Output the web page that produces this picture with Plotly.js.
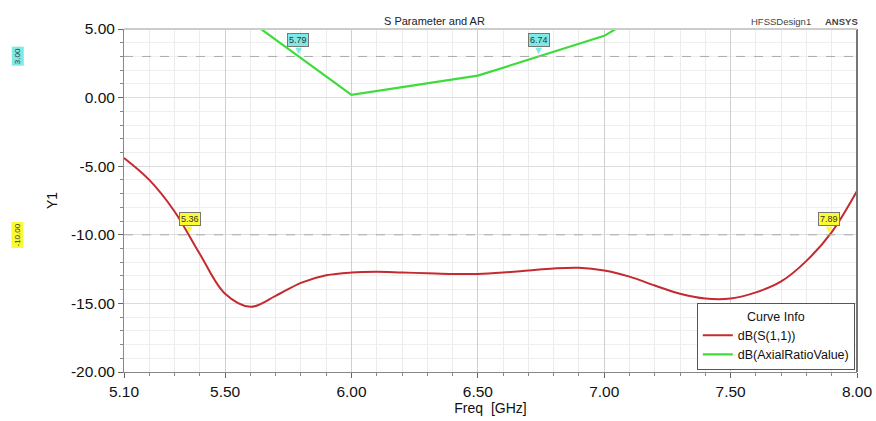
<!DOCTYPE html>
<html><head><meta charset="utf-8">
<script src="https://cdn.plot.ly/plotly-3.0.1.min.js"></script>
<style>html,body{margin:0;padding:0;background:#fff}#chart{width:876px;height:421px}</style>
</head><body><div id="chart"></div>
<script>
// Data
const freqS11 = [5.10,5.20,5.30,5.40,5.50,5.60,5.70,5.80,5.90,6.00,6.10,6.20,6.30,6.40,6.50,6.60,6.70,6.80,6.90,7.00,7.10,7.20,7.30,7.40,7.50,7.60,7.70,7.80,7.90,8.00];
const dbS11   = [-4.4,-6.0,-8.3,-11.4,-14.3,-15.25,-14.45,-13.5,-12.95,-12.75,-12.7,-12.75,-12.8,-12.85,-12.85,-12.75,-12.6,-12.45,-12.4,-12.6,-13.05,-13.7,-14.3,-14.65,-14.65,-14.2,-13.4,-11.9,-9.8,-6.8];
const freqAR = [5.5, 6.0, 6.5, 7.0, 7.5, 8.0];
const dbAR   = [6.9, 0.2, 1.6, 4.5, 10.0, 13.0];
const xTickVals = [5.1, 5.5, 6.0, 6.5, 7.0, 7.5, 8.0];
const xTickText = ["5.10","5.50","6.00","6.50","7.00","7.50","8.00"];
const yTickVals = [5, 0, -5, -10, -15, -20];
const yTickText = ["5.00","0.00","-5.00","-10.00","-15.00","-20.00"];
const seriesNames = ["dB(S(1,1))", "dB(AxialRatioValue)"];
const refLevels = [3.0, -10.0];
const refLabels = ["3.00", "-10.00"];
const markS11X = [5.36, 7.89];
const markS11Y = [-10, -10];
const markARX = [5.79, 6.74];
const markARY = [3, 3];

const red = "#c42a2f", green = "#3ddc3a";
const cyanBg = "#7fe9e6", yellowBg = "#fbfb33";
const font = "Liberation Sans, Arial, sans-serif";

const traces = [
  {x: freqS11, y: dbS11, name: seriesNames[0], mode: "lines", line: {color: red, width: 2, shape: "spline", smoothing: 1}},
  {x: freqAR, y: dbAR, name: seriesNames[1], mode: "lines", line: {color: green, width: 2.2}}
];

const shapes = [];
const annotations = [];
refLevels.forEach((lv, i) => {
  shapes.push({type: "line", xref: "paper", x0: 0, x1: 1, yref: "y", y0: lv, y1: lv,
    line: {color: "#aaaaaa", width: 1, dash: "dash"}});
  annotations.push({xref: "paper", x: -0.145, xanchor: "center", yref: "y", y: lv, text: refLabels[i],
    textangle: -90, showarrow: false, font: {family: font, size: 8, color: "#333"},
    bgcolor: i === 0 ? cyanBg : yellowBg, borderpad: 1});
});
function addMarker(xs, ys, bg) {
  xs.forEach((x, i) => {
    annotations.push({x: x, y: ys[i], xref: "x", yref: "y", text: "▼", showarrow: false,
      font: {size: 11, color: bg}, yshift: 6});
    annotations.push({x: x, y: ys[i], xref: "x", yref: "y", text: x.toFixed(2), showarrow: false,
      font: {family: font, size: 9, color: "#333"}, bgcolor: bg, bordercolor: "#777", borderwidth: 1,
      borderpad: 1, yshift: 16});
  });
}
addMarker(markS11X, markS11Y, yellowBg);
addMarker(markARX, markARY, cyanBg);

annotations.push({xref: "paper", yref: "paper", x: 0.424, y: 1, yshift: 16, text: "S Parameter and AR",
  showarrow: false, font: {family: font, size: 11, color: "#222"}});
annotations.push({xref: "paper", yref: "paper", x: 0.94, y: 1, yshift: 15, text: "HFSSDesign1",
  showarrow: false, font: {family: font, size: 9.5, color: "#444"}});
annotations.push({xref: "paper", yref: "paper", x: 1.004, y: 1, yshift: 15, text: "<b>ANSYS</b>",
  showarrow: false, font: {family: font, size: 9.5, color: "#444"}});

const layout = {
  width: 876, height: 421,
  margin: {l: 124, r: 19, t: 29, b: 49},
  paper_bgcolor: "#fff", plot_bgcolor: "#fff",
  font: {family: font, color: "#111"},
  showlegend: true,
  legend: {x: 0.997, y: 0.005, xanchor: "right", yanchor: "bottom", bgcolor: "#fff",
    bordercolor: "#555", borderwidth: 1, font: {family: font, size: 12.5},
    title: {text: "Curve Info", side: "top center", font: {family: font, size: 12.5}},
    tracegroupgap: 0, itemwidth: 30},
  xaxis: {range: [5.1, 8.0], tickvals: xTickVals, ticktext: xTickText, ticks: "outside", ticklen: 5,
    tickcolor: "#666", tickfont: {size: 15.5, family: font},
    showgrid: true, gridcolor: "#cfcfcf", zeroline: false,
    minor: {dtick: 0.1, tick0: 5.0, showgrid: true, gridcolor: "#ececec", ticks: "outside", ticklen: 3, tickcolor: "#888"},
    showline: true, linecolor: "#888", mirror: false,
    title: {text: "Freq  [GHz]", font: {size: 14, family: font}, standoff: 2}},
  yaxis: {range: [-20, 5], tickvals: yTickVals, ticktext: yTickText, ticks: "outside", ticklen: 5,
    tickcolor: "#666", tickfont: {size: 15.5, family: font},
    showgrid: true, gridcolor: "#dcdcdc", zeroline: false,
    minor: {dtick: 1, showgrid: true, gridcolor: "#efefef", ticks: "outside", ticklen: 3, tickcolor: "#888"},
    showline: true, linecolor: "#888",
    title: {text: "Y1", font: {size: 14, family: font}, standoff: 10}},
  shapes: shapes.concat([
    {type: "line", xref: "paper", yref: "paper", x0: 1, x1: 1, y0: 0, y1: 1, line: {color: "#777", width: 2}},
    {type: "line", xref: "paper", yref: "paper", x0: 0, x1: 1, y0: 1, y1: 1, line: {color: "#cccccc", width: 2}}
  ]),
  annotations: annotations
};
Plotly.newPlot("chart", traces, layout, {displayModeBar: false, staticPlot: true});
</script></body></html>
